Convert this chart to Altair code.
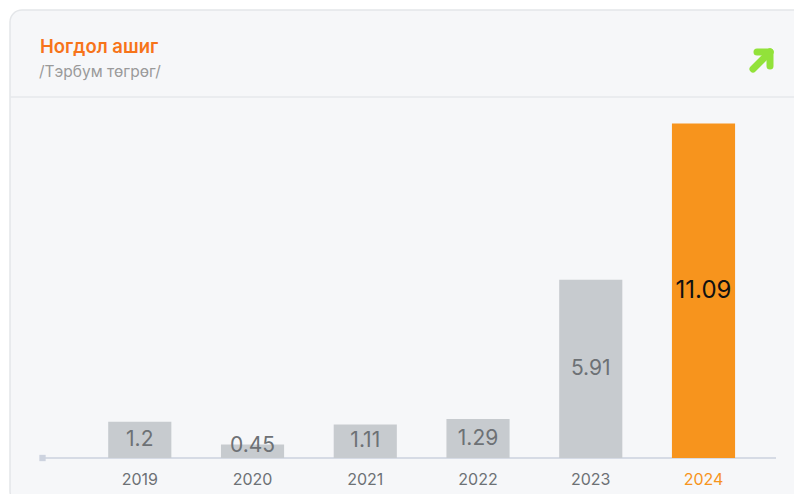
import altair as alt
import pandas as pd

years = ["2019", "2020", "2021", "2022", "2023", "2024"]
values = [1.2, 0.45, 1.11, 1.29, 5.91, 11.09]
labels = ["1.2", "0.45", "1.11", "1.29", "5.91", "11.09"]
title_text = "Ногдол ашиг"
subtitle_text = "/Тэрбум төгрөг/"

ORANGE = "#f7941d"
GRAY_BAR = "#c7cbcf"
TXT_GRAY = "#6d7175"
FONT = "Inter"

df = pd.DataFrame({"year": years, "value": values, "label": labels})
one = pd.DataFrame({"z": [0]})

W, H = 736, 362

xscale = alt.Scale(paddingInner=0.44, paddingOuter=0.484, align=0.625)
yscale = alt.Scale(domain=[0, 12])

card = alt.Chart(one).mark_rect(
    fill="#f6f7f9", stroke="#e4e6e9", strokeWidth=1.5, cornerRadius=12
).encode(x=alt.value(-30), x2=alt.value(800), y=alt.value(-86), y2=alt.value(407))

sep = alt.Chart(one).mark_rule(color="#e6e8eb", strokeWidth=1.5).encode(
    x=alt.value(-30), x2=alt.value(800), y=alt.value(1)
)

title_mark = alt.Chart(one).mark_text(
    text=title_text, font=FONT, fontSize=18.5, fontWeight=600, color="#f7741a",
    align="left", baseline="alphabetic"
).encode(x=alt.value(0), y=alt.value(-43))

subtitle_mark = alt.Chart(one).mark_text(
    text=subtitle_text, font=FONT, fontSize=15.5, color="#9a9a9a",
    align="left", baseline="alphabetic"
).encode(x=alt.value(-1), y=alt.value(-19))

arrow_style = dict(color="#92e23a", strokeWidth=7, strokeCap="round")
arrow1 = alt.Chart(one).mark_rule(**arrow_style).encode(
    x=alt.value(713), x2=alt.value(730), y=alt.value(-27), y2=alt.value(-44)
)
arrow2 = alt.Chart(one).mark_rule(**arrow_style).encode(
    x=alt.value(717), x2=alt.value(730), y=alt.value(-44), y2=alt.value(-44)
)
arrow3 = alt.Chart(one).mark_rule(**arrow_style).encode(
    x=alt.value(730), x2=alt.value(730), y=alt.value(-44), y2=alt.value(-30)
)

axis_line = alt.Chart(one).mark_rule(color="#d6dbe5", strokeWidth=2).encode(
    x=alt.value(0), x2=alt.value(W), y=alt.Y("z:Q", scale=yscale, axis=None)
)
sq = alt.Chart(one).mark_square(color="#cdd3df", size=40, opacity=1).encode(
    x=alt.value(2.5), y=alt.Y("z:Q", scale=yscale, axis=None)
)

base = alt.Chart(df)

bars = base.mark_bar().encode(
    x=alt.X(
        "year:N",
        sort=years,
        scale=xscale,
        axis=alt.Axis(
            title=None,
            domain=False,
            ticks=False,
            labelPadding=13,
            labelFontSize=16,
            labelFont=FONT,
            labelColor=alt.condition("datum.value == '2024'", alt.value(ORANGE), alt.value(TXT_GRAY)),
            labelAngle=0,
            zindex=2,
        ),
    ),
    y=alt.Y("value:Q", scale=yscale, axis=None),
    color=alt.condition(alt.datum.year == "2024", alt.value(ORANGE), alt.value(GRAY_BAR)),
)

text_pos = base.transform_calculate(ly="max(datum.value / 2, 0.4)")
texts = text_pos.mark_text(font=FONT, baseline="middle", align="center").encode(
    x=alt.X("year:N", sort=years, scale=xscale),
    y=alt.Y("ly:Q", scale=yscale, axis=None),
    text="label:N",
    color=alt.condition(alt.datum.year == "2024", alt.value("#111111"), alt.value(TXT_GRAY)),
    size=alt.condition(alt.datum.year == "2024", alt.value(24), alt.value(21)),
)

chart = alt.layer(
    card, sep, title_mark, subtitle_mark, arrow1, arrow2, arrow3, axis_line, sq, bars, texts
).properties(
    width=W,
    height=H,
    autosize=alt.AutoSizeParams(type="none"),
    padding={"left": 32, "top": 88, "right": 18, "bottom": 36},
    background="white",
).configure_view(stroke=None)

chart.save("out.html", embed_options={"renderer": "svg", "actions": False})
